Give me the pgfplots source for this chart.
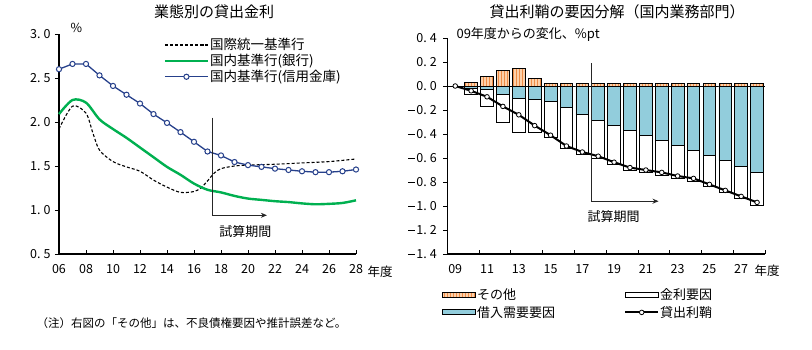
\documentclass[border=0pt]{standalone}
\usepackage{fontspec}
\setmainfont{Noto Sans CJK JP}
\usepackage{pgfplots}
\pgfplotsset{compat=1.18}
\usepackage{pgfplotstable}
\usetikzlibrary{patterns,arrows.meta}

\definecolor{navy}{RGB}{38,64,139}
\definecolor{xlgreen}{RGB}{0,176,80}
\definecolor{ltblue}{RGB}{146,205,220}
\definecolor{ltorange}{RGB}{252,208,170}
\definecolor{dkorange}{RGB}{238,140,70}

\newcommand{\tl}[2]{#1.\kern3pt#2}
\newcommand{\mn}{\raisebox{0.3em}{\rule{0.55em}{0.075em}}\kern0.1em}

\pgfplotsset{
  orangeleg/.style={legend image code/.code={\draw[fill=ltorange,draw=black,line width=0.8pt,postaction={pattern=vertical lines,pattern color=dkorange}] (0pt,-2.5pt) rectangle (33pt,2.5pt);}},
  blueleg/.style={legend image code/.code={\draw[fill=ltblue,draw=black,line width=0.8pt] (0pt,-2.5pt) rectangle (33pt,2.5pt);}},
  whiteleg/.style={legend image code/.code={\draw[fill=white,draw=black,line width=0.8pt] (0pt,-2.5pt) rectangle (33pt,2.5pt);}},
}

% left chart data
\pgfplotstableread{
yr val
6 2.60
7 2.66
8 2.66
9 2.53
10 2.41
11 2.31
12 2.21
13 2.09
14 1.99
15 1.885
16 1.775
17 1.665
18 1.62
19 1.545
20 1.51
21 1.49
22 1.47
23 1.455
24 1.44
25 1.43
26 1.43
27 1.44
28 1.46
}\shinkin

\pgfplotstableread{
yr val
6 2.09
7 2.25
8 2.22
9 2.03
10 1.92
11 1.82
12 1.71
13 1.60
14 1.49
15 1.40
16 1.30
17 1.23
18 1.20
19 1.16
20 1.13
21 1.115
22 1.10
23 1.09
24 1.075
25 1.065
26 1.07
27 1.08
28 1.11
}\ginko

\pgfplotstableread{
yr val
6 1.92
7 2.18
8 2.10
8.5 1.88
9 1.68
10 1.55
11 1.49
12 1.44
13 1.34
14 1.26
15 1.20
16 1.21
16.5 1.25
17 1.33
17.5 1.42
18 1.47
19 1.50
20 1.51
22 1.52
24 1.535
26 1.55
28 1.58
}\kokusai

% right chart data
\pgfplotstableread{
yr oth bor rate
10 0.03 -0.02 -0.05
11 0.08 -0.03 -0.14
12 0.13 -0.07 -0.23
13 0.15 -0.10 -0.29
14 0.06 -0.11 -0.28
15 0.02 -0.13 -0.30
16 0.02 -0.18 -0.34
17 0.02 -0.24 -0.33
18 0.02 -0.285 -0.315
19 0.02 -0.325 -0.33
20 0.02 -0.366 -0.334
21 0.02 -0.41 -0.31
22 0.02 -0.45 -0.295
23 0.02 -0.495 -0.275
24 0.02 -0.537 -0.258
25 0.02 -0.58 -0.26
26 0.02 -0.623 -0.262
27 0.02 -0.67 -0.265
28 0.02 -0.72 -0.275
}\factors

\pgfplotstableread{
yr val
9 0.0
10 -0.04
11 -0.09
12 -0.17
13 -0.24
14 -0.33
15 -0.41
16 -0.50
17 -0.55
18 -0.585
19 -0.635
20 -0.68
21 -0.70
22 -0.72
23 -0.75
24 -0.77
25 -0.82
26 -0.87
27 -0.92
28 -0.97
}\spread

\begin{document}
\begin{tikzpicture}
\useasboundingbox (0pt,0pt) rectangle (812pt,349pt);

% ---------- left chart ----------
\begin{axis}[
  at={(59pt,95pt)}, anchor=south west,
  scale only axis, width=297pt, height=220pt,
  xmin=6, xmax=28, ymin=0.5, ymax=3.0,
  axis lines*=left,
  axis line style={line width=1.2pt},
  xtick={6,8,...,28},
  xticklabels={06,08,10,12,14,16,18,20,22,24,26,28},
  ytick={0.5,1.0,1.5,2.0,2.5,3.0},
  yticklabels={\tl05,\tl10,\tl15,\tl20,\tl25,\tl30},
  ticklabel style={font=\fontsize{12.5}{14}\selectfont},
  xticklabel style={yshift=-7pt},
  yticklabel style={xshift=-1pt},
  xtick align=inside, ytick align=outside,
  major tick length=4pt,
  tick style={black,line width=0.8pt},
  clip=false,
  legend cell align=left,
  legend style={at={(axis description cs:0.352,0.985)}, anchor=north west, draw=none, fill=none,
    inner sep=0pt, row sep=1pt, font=\fontsize{13.5}{15}\selectfont, nodes={inner sep=1pt}},
  legend image code/.code={\draw[mark repeat=2,mark phase=2,#1] plot coordinates {(0pt,0pt) (21.5pt,0pt) (43pt,0pt)};},
]
\addplot[black, line width=1.1pt, dash pattern=on 3pt off 2pt, smooth, tension=0.5, no marks] table[x=yr,y=val] \kokusai;
\addlegendentry{国際統一基準行}
\addplot[xlgreen, line width=2.4pt, smooth, tension=0.5, no marks] table[x=yr,y=val] \ginko;
\addlegendentry{国内基準行(銀行)}
\addplot[navy, line width=1.3pt, mark=*, mark size=2.6pt, mark options={fill=white,draw=navy,line width=1pt}] table[x=yr,y=val] \shinkin;
\addlegendentry{国内基準行(信用金庫)}
\draw[black!85, line width=1.1pt, -{Stealth[length=6pt,width=5pt]}] (axis cs:17.4,2.05) -- (axis cs:17.4,0.94) -- (axis cs:21.4,0.94);
\node[font=\fontsize{13}{15}\selectfont] at (axis cs:19.8,0.75) {試算期間};
\end{axis}

% ---------- right chart ----------
\begin{axis}[
  at={(447.3pt,95pt)}, anchor=south west,
  scale only axis, width=317.7pt, height=216pt,
  xmin=8.5, xmax=28.5, ymin=-1.4, ymax=0.4,
  axis lines*=left,
  axis line style={line width=1.2pt},
  xtick={8.5,10.5,...,28.5},
  xticklabels={09,11,13,15,17,19,21,23,25,27,{}},
  ytick={-1.4,-1.2,-1,-0.8,-0.6,-0.4,-0.2,0,0.2,0.4},
  yticklabels={\mn\tl14,\mn\tl12,\mn\tl10,\mn\tl08,\mn\tl06,\mn\tl04,\mn\tl02,\tl00,\tl02,\tl04},
  ticklabel style={font=\fontsize{12.5}{14}\selectfont},
  xticklabel style={xshift=7.94pt,yshift=-7pt},
  yticklabel style={xshift=-3pt},
  extra y ticks={0}, extra y tick labels={},
  extra y tick style={grid=major, major grid style={black,line width=0.8pt}},
  xtick align=inside, ytick align=outside,
  major tick length=4pt,
  tick style={black,line width=0.8pt},
  clip=false,
  legend columns=2,
  legend cell align=left,
  legend style={at={(axis description cs:-0.016,-0.23)}, anchor=west, draw=none, fill=none,
    inner sep=0pt, row sep=3pt, font=\fontsize{13}{15}\selectfont, nodes={inner sep=1pt},
    /tikz/every even column/.append style={column sep=68pt}},
  legend image code/.code={\draw[mark repeat=2,mark phase=2,#1] plot coordinates {(0pt,0pt) (16.5pt,0pt) (33pt,0pt)};},
]
\addplot[ybar, bar width=0.8, bar shift=0pt, fill=white, draw=black, line width=0.8pt, forget plot]
  table[x=yr, y expr=\thisrow{bor}+\thisrow{rate}] \factors;
\addplot[ybar, bar width=0.8, bar shift=0pt, fill=ltblue, draw=black, line width=0.8pt, forget plot]
  table[x=yr, y=bor] \factors;
\addplot[ybar, bar width=0.8, bar shift=0pt, fill=ltorange, draw=black, line width=0.8pt,
  postaction={pattern=vertical lines, pattern color=dkorange}, forget plot]
  table[x=yr, y=oth] \factors;
\addplot[black, line width=2pt, mark=*, mark size=2.3pt, mark options={fill=white,draw=black,line width=0.8pt}, forget plot]
  table[x=yr, y=val] \spread;
\addlegendimage{orangeleg}
\addlegendentry{その他}
\addlegendimage{whiteleg}
\addlegendentry{金利要因}
\addlegendimage{blueleg}
\addlegendentry{借入需要要因}
\addlegendimage{black, line width=2pt, mark=*, mark size=2.3pt, mark options={fill=white,draw=black,line width=0.8pt}}
\addlegendentry{貸出利鞘}
\draw[black!85, line width=1.1pt, -{Stealth[length=6pt,width=5pt]}] (axis cs:17.55,0.19) -- (axis cs:17.55,-0.96) -- (axis cs:21.8,-0.96);
\node[font=\fontsize{13}{15}\selectfont] at (axis cs:18.97,-1.09) {試算期間};
\end{axis}

% ---------- titles and texts ----------
\node[font=\fontsize{15}{17}\selectfont] at (214pt,337.3pt) {業態別の貸出金利};
\node[font=\fontsize{15}{17}\selectfont] at (617pt,337.3pt) {貸出利鞘の要因分解（国内業務部門）};
\node[font=\fontsize{12.5}{14}\selectfont] at (76.5pt,320.7pt) {\%};
\node[font=\fontsize{13}{15}\selectfont, anchor=west] at (453pt,314.7pt) {09年度からの変化、\%pt};
\node[font=\fontsize{12.5}{14}\selectfont, anchor=west] at (364pt,77.3pt) {年度};
\node[font=\fontsize{12.5}{14}\selectfont, anchor=west] at (751pt,78.3pt) {年度};
\node[font=\fontsize{11.5}{13}\selectfont, anchor=west] at (33pt,26pt) {（注）右図の「その他」は、不良債権要因や推計誤差など。};
\end{tikzpicture}
\end{document}
